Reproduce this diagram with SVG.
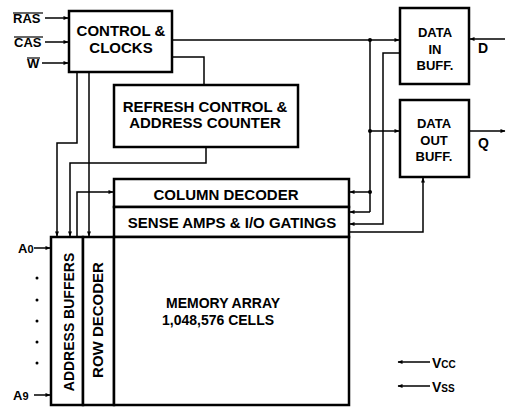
<svg xmlns="http://www.w3.org/2000/svg" width="509" height="412" viewBox="0 0 509 412">
<style>
.box{fill:#fff;stroke:#000;stroke-width:2.5}
.w{fill:none;stroke:#000;stroke-width:1.5}
text{font-family:"Liberation Sans",Arial,sans-serif;font-weight:bold;fill:#000}
.t15{font-size:15px}
.t14{font-size:14px}
.t13{font-size:13px}
.c{text-anchor:middle}
</style>
<defs>
<marker id="ar" viewBox="0 0 10 10" refX="9" refY="5" markerWidth="7" markerHeight="5" orient="auto" markerUnits="userSpaceOnUse">
<path d="M0,1 L10,5 L0,9 z" fill="#000"/>
</marker>
</defs>
<g id="connectors">
<!-- inputs -->
<line class="w" x1="45" y1="18" x2="68" y2="18" marker-end="url(#ar)"/>
<line class="w" x1="45" y1="42" x2="68" y2="42" marker-end="url(#ar)"/>
<line class="w" x1="42" y1="63" x2="68" y2="63" marker-end="url(#ar)"/>
<line class="w" x1="34" y1="248" x2="50" y2="248" marker-end="url(#ar)"/>
<line class="w" x1="34" y1="395" x2="50" y2="395" marker-end="url(#ar)"/>
<!-- control to data in / clocks bus -->
<line class="w" x1="172" y1="40" x2="399" y2="40" marker-end="url(#ar)"/>
<line class="w" x1="370" y1="40" x2="370" y2="212"/>
<line class="w" x1="370" y1="131" x2="399" y2="131" marker-end="url(#ar)"/>
<line class="w" x1="370" y1="192" x2="350" y2="192" marker-end="url(#ar)"/>
<line class="w" x1="370" y1="212" x2="350" y2="212" marker-end="url(#ar)"/>
<circle cx="370" cy="40" r="2"/>
<circle cx="370" cy="131" r="2"/>
<circle cx="370" cy="192" r="2"/>
<!-- data in to sense amps -->
<polyline class="w" points="400,53 383,53 383,224 350,224" marker-end="url(#ar)"/>
<!-- sense amps to data out -->
<polyline class="w" points="349,232 423,232 423,178" marker-end="url(#ar)"/>
<!-- D and Q -->
<line class="w" x1="505" y1="39" x2="470" y2="39" marker-end="url(#ar)"/>
<line class="w" x1="469" y1="131" x2="505" y2="131" marker-end="url(#ar)"/>
<!-- control to refresh -->
<polyline class="w" points="172,57 204,57 204,85"/>
<!-- control to address buffers / row decoder -->
<polyline class="w" points="77,72 77,143 57,143 57,236" marker-end="url(#ar)"/>
<line class="w" x1="89" y1="72" x2="89" y2="236" marker-end="url(#ar)"/>
<!-- refresh to address buffers -->
<polyline class="w" points="206,147 206,163 70,163 70,236" marker-end="url(#ar)"/>
<!-- address buffers to column decoder -->
<polyline class="w" points="77,237 77,192 113,192" marker-end="url(#ar)"/>
<!-- power -->
<line class="w" x1="430" y1="362" x2="398" y2="362" marker-end="url(#ar)"/>
<line class="w" x1="430" y1="386" x2="398" y2="386" marker-end="url(#ar)"/>
</g>
<g id="control">
<rect class="box" x="69" y="11" width="103" height="61"/>
<text class="t15 c" x="121" y="36">CONTROL &amp;</text>
<text class="t15 c" x="121" y="53">CLOCKS</text>
</g>
<g id="refresh">
<rect class="box" x="114" y="85" width="184" height="62"/>
<text class="t15 c" x="205" y="112">REFRESH CONTROL &amp;</text>
<text class="t15 c" x="205" y="128">ADDRESS COUNTER</text>
</g>
<g id="datain">
<rect class="box" x="400" y="8" width="69" height="76"/>
<text class="t13 c" x="435" y="37">DATA</text>
<text class="t13 c" x="435" y="54">IN</text>
<text class="t13 c" x="435" y="70">BUFF.</text>
</g>
<g id="dataout">
<rect class="box" x="400" y="100" width="69" height="77"/>
<text class="t13 c" x="434" y="128">DATA</text>
<text class="t13 c" x="434" y="145">OUT</text>
<text class="t13 c" x="434" y="161">BUFF.</text>
</g>
<g id="coldec">
<rect class="box" x="114" y="179" width="235" height="28"/>
<text class="t15 c" x="226" y="200">COLUMN DECODER</text>
</g>
<g id="senseamps">
<rect class="box" x="114" y="207" width="235" height="30"/>
<text class="t15 c" x="232" y="228">SENSE AMPS &amp; I/O GATINGS</text>
</g>
<g id="addrbuf">
<rect class="box" x="51" y="237" width="32" height="168"/>
<text class="t14 c" transform="translate(74,322) rotate(-90)">ADDRESS BUFFERS</text>
</g>
<g id="rowdec">
<rect class="box" x="83" y="237" width="31" height="168"/>
<text class="t15 c" transform="translate(103,320) rotate(-90)">ROW DECODER</text>
</g>
<g id="memarray">
<rect class="box" x="114" y="237" width="235" height="168"/>
<text class="t14" x="166" y="308">MEMORY ARRAY</text>
<text class="t14" x="162" y="325">1,048,576 CELLS</text>
</g>
<g id="labels">
<text class="t13" x="13" y="23">RAS</text>
<line x1="13" y1="13" x2="43" y2="13" stroke="#000" stroke-width="1.2"/>
<text class="t13" x="14" y="47">CAS</text>
<line x1="14" y1="37" x2="43" y2="37" stroke="#000" stroke-width="1.2"/>
<text class="t13" x="27" y="68">W</text>
<line x1="27" y1="58" x2="40" y2="58" stroke="#000" stroke-width="1.2"/>
<text class="t13" x="18" y="253">A<tspan font-size="11">0</tspan></text>
<text class="t13" x="13" y="400">A<tspan font-size="11">9</tspan></text>
<circle cx="37" cy="278" r="1.5"/>
<circle cx="37" cy="300" r="1.5"/>
<circle cx="37" cy="321" r="1.5"/>
<circle cx="37" cy="342" r="1.5"/>
<circle cx="37" cy="363" r="1.5"/>
<text class="t14" x="478" y="53">D</text>
<text class="t14" x="478" y="148">Q</text>
<text class="t14" x="432" y="368">V<tspan font-size="10">CC</tspan></text>
<text class="t14" x="432" y="392">V<tspan font-size="10">SS</tspan></text>
</g>
</svg>
